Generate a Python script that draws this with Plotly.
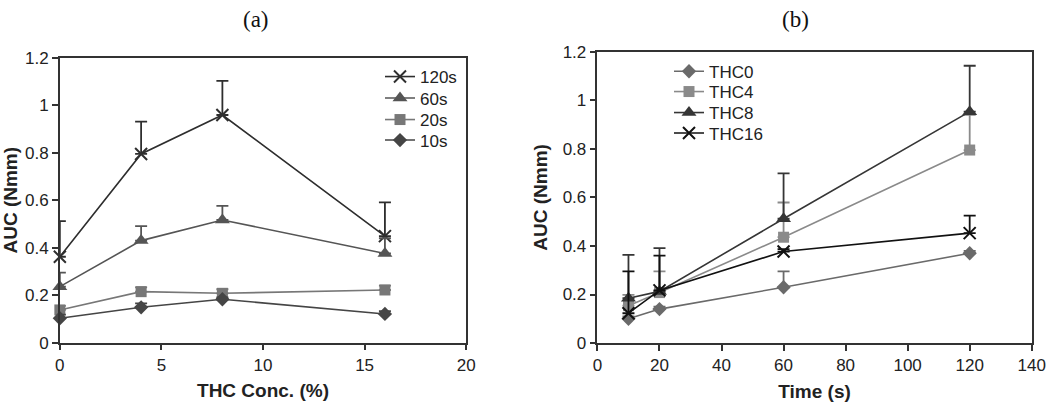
import plotly.graph_objects as go

# Panel (a): AUC vs THC concentration for each time
conc = [0, 4, 8, 16]
a_names = ["120s", "60s", "20s", "10s"]
a_vals = {
    "120s": [0.362, 0.795, 0.959, 0.449],
    "60s": [0.236, 0.430, 0.517, 0.376],
    "20s": [0.138, 0.215, 0.208, 0.222],
    "10s": [0.103, 0.149, 0.183, 0.121],
}
a_err = {
    "120s": [0.150, 0.136, 0.144, 0.142],
    "60s": [0.059, 0.061, 0.059, 0.064],
    "20s": [0.017, 0.018, 0.017, 0.018],
    "10s": [0.015, 0.017, 0.008, 0.012],
}

# Panel (b): AUC vs time for each THC concentration
time_s = [10, 20, 60, 120]
b_names = ["THC0", "THC4", "THC8", "THC16"]
b_vals = {
    "THC0": [0.100, 0.140, 0.230, 0.370],
    "THC4": [0.154, 0.208, 0.436, 0.795],
    "THC8": [0.185, 0.213, 0.512, 0.953],
    "THC16": [0.123, 0.217, 0.377, 0.453],
}
b_err = {
    "THC0": [0.010, 0.010, 0.065, 0.010],
    "THC4": [0.045, 0.087, 0.143, 0.145],
    "THC8": [0.178, 0.178, 0.187, 0.189],
    "THC16": [0.172, 0.143, 0.010, 0.072],
}

a_style = {
    "120s": dict(color="#2e2e2e", symbol="x-thin", size=12),
    "60s": dict(color="#555555", symbol="triangle-up", size=13),
    "20s": dict(color="#777777", symbol="square", size=11),
    "10s": dict(color="#454545", symbol="diamond", size=11),
}
b_style = {
    "THC0": dict(color="#6a6a6a", symbol="diamond", size=11),
    "THC4": dict(color="#8a8a8a", symbol="square", size=11),
    "THC8": dict(color="#363636", symbol="triangle-up", size=13),
    "THC16": dict(color="#111111", symbol="x-thin", size=12),
}

# legend row positions (pixels from top) for each panel
a_leg_x, a_leg_rows = 380, [77, 98.5, 120, 140.5]
b_leg_x, b_leg_rows = 669, [71.7, 92, 113, 133.5]

W, H = 1050, 407
fig = go.Figure()

def add(xs, name, ys, err, st, xa, ya, leg):
    c = st["color"]
    marker = dict(color=c, symbol=st["symbol"], size=st["size"])
    if st["symbol"] == "x-thin":
        marker["line"] = dict(color=c, width=2)
    fig.add_trace(go.Scatter(
        x=xs, y=ys, name=name, mode="lines+markers", showlegend=True,
        line=dict(color=c, width=1.6), marker=marker,
        error_y=dict(type="data", symmetric=False, array=err,
                     arrayminus=[0] * len(err), color=c, thickness=1.8, width=6),
        xaxis=xa, yaxis=ya, legend=leg, cliponaxis=False,
    ))

FONT = "Liberation Sans, Arial, sans-serif"
legends = {}
k = 0
for i, n in enumerate(a_names):
    k += 1
    lname = "legend" if k == 1 else f"legend{k}"
    add(conc, n, a_vals[n], a_err[n], a_style[n], "x", "y", lname)
    legends[lname] = dict(x=a_leg_x / W, y=1 - a_leg_rows[i] / H,
                          xanchor="left", yanchor="middle")
for i, n in enumerate(b_names):
    k += 1
    lname = f"legend{k}"
    add(time_s, n, b_vals[n], b_err[n], b_style[n], "x2", "y2", lname)
    legends[lname] = dict(x=b_leg_x / W, y=1 - b_leg_rows[i] / H,
                          xanchor="left", yanchor="middle")
for lname, d in legends.items():
    d.update(font=dict(family=FONT, size=17, color="#222"),
             bgcolor="rgba(0,0,0,0)", itemwidth=30)

tickfont = dict(family=FONT, size=17, color="#222")
titlefont = dict(family=FONT, size=19, color="#222", weight="bold")
axis_common = dict(showline=True, linecolor="#333", linewidth=1.5, mirror=True,
                   ticks="outside", ticklen=6, tickcolor="#333", tickwidth=1.5,
                   showgrid=False, zeroline=False, tickfont=tickfont,
                   automargin=False)

fig.update_layout(
    width=W, height=H, showlegend=True,
    margin=dict(l=0, r=0, t=0, b=0),
    paper_bgcolor="white", plot_bgcolor="white",
    xaxis=dict(domain=[0.057, 0.444], range=[0, 20], dtick=5,
               title=dict(text="THC Conc. (%)", font=titlefont, standoff=10),
               anchor="y", **axis_common),
    yaxis=dict(domain=[0.158, 0.858], range=[0, 1.2], dtick=0.2,
               title=dict(text="AUC (Nmm)", font=titlefont, standoff=10),
               anchor="x", **axis_common),
    xaxis2=dict(domain=[0.569, 0.9826], range=[0, 140], dtick=20,
                title=dict(text="Time (s)", font=titlefont, standoff=10),
                anchor="y2", **axis_common),
    yaxis2=dict(domain=[0.157, 0.873], range=[0, 1.2], dtick=0.2,
                title=dict(text="AUC (Nmm)", font=titlefont, standoff=10),
                anchor="x2", **axis_common),
    annotations=[
        dict(text="(a)", x=256 / W, y=1 - 19 / H, xref="paper", yref="paper",
             xanchor="center", yanchor="middle", showarrow=False,
             font=dict(family="Liberation Serif", size=23, color="#111")),
        dict(text="(b)", x=795 / W, y=1 - 19 / H, xref="paper", yref="paper",
             xanchor="center", yanchor="middle", showarrow=False,
             font=dict(family="Liberation Serif", size=23, color="#111")),
    ],
    **legends,
)

fig.write_html("out.html", config={"displayModeBar": False},
               post_script="document.body.style.margin='0';")
